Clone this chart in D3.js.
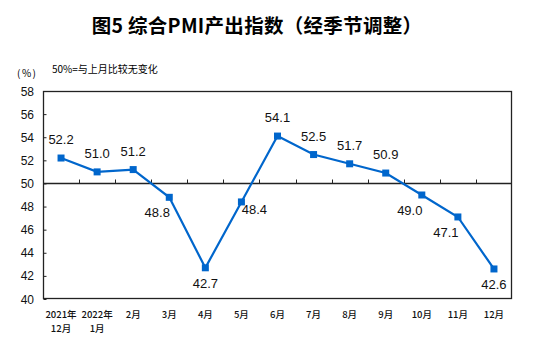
<!DOCTYPE html>
<html>
<head>
<meta charset="utf-8">
<script src="https://cdn.jsdelivr.net/npm/d3@7"></script>
<style>
  html, body { margin: 0; padding: 0; background: #fff; }
  svg { display: block; }
</style>
</head>
<body>
<svg id="chart" width="554" height="345"></svg>
<script>
// Composite PMI output index, seasonally adjusted
const months = ["2021年|12月", "2022年|1月", "2月", "3月", "4月", "5月", "6月", "7月", "8月", "9月", "10月", "11月", "12月"];
const values = [52.2, 51.0, 51.2, 48.8, 42.7, 48.4, 54.1, 52.5, 51.7, 50.9, 49.0, 47.1, 42.6];
// label placement per point: above, below, below-left, below-right
const labelPos = ["above", "above", "above", "belowLeft", "below", "belowRight", "above", "above", "above", "above", "belowLeft", "belowLeft", "below"];
const yTicks = [40, 42, 44, 46, 48, 50, 52, 54, 56, 58];

const svg = d3.select("#chart");
const m = { left: 43, right: 512, top: 91, bottom: 299 };

const x = d3.scaleBand().domain(d3.range(months.length)).range([m.left, m.right]);
const y = d3.scaleLinear().domain([40, 58]).range([m.bottom, m.top]);
const cx = i => x(i) + x.bandwidth() / 2;

// title
svg.append("text")
  .attr("x", 257).attr("y", 33)
  .attr("text-anchor", "middle")
  .attr("font-family", "'Noto Sans CJK SC', sans-serif")
  .attr("font-weight", "bold")
  .attr("font-size", 19.5)
  .attr("letter-spacing", 0.3)
  .attr("fill", "#000")
  .text("图5 综合PMI产出指数（经季节调整）");

// unit and note
svg.append("text").attr("x", 17).attr("y", 77)
  .attr("font-family", "'Noto Sans CJK SC', sans-serif").attr("font-size", 10)
  .attr("letter-spacing", 1.5)
  .text("(%)");
svg.append("text").attr("x", 52).attr("y", 73)
  .attr("font-family", "'Noto Sans CJK SC', sans-serif").attr("font-size", 10)
  .text("50%=与上月比较无变化");

// frame
svg.append("rect")
  .attr("x", m.left + 0.5).attr("y", m.top + 0.5)
  .attr("width", m.right - m.left - 1).attr("height", m.bottom - m.top - 1)
  .attr("fill", "none").attr("stroke", "#222").attr("stroke-width", 1.3);

// y axis: ticks pointing inward
const yAxis = d3.axisRight(y).tickValues(yTicks).tickSize(3).tickFormat("");
const ya = svg.append("g").attr("transform", `translate(${m.left + 0.5},0)`).call(yAxis);
ya.select(".domain").remove();
ya.selectAll("line").attr("stroke", "#222");

svg.append("g").selectAll("text").data(yTicks).join("text")
  .attr("x", 34).attr("y", d => y(d) + 4.5)
  .attr("text-anchor", "end")
  .attr("font-family", "Arial, 'Liberation Sans', sans-serif")
  .attr("font-size", 12)
  .attr("fill", "#111")
  .text(d => d);

// 50 reference line with category ticks pointing up
const y50 = Math.round(y(50)) + 0.5;
svg.append("line")
  .attr("x1", m.left).attr("x2", m.right)
  .attr("y1", y50).attr("y2", y50)
  .attr("stroke", "#222").attr("stroke-width", 1.3);
svg.append("g").selectAll("line").data(d3.range(1, months.length)).join("line")
  .attr("x1", i => Math.round(x(i)) + 0.5).attr("x2", i => Math.round(x(i)) + 0.5)
  .attr("y1", y50).attr("y2", y50 - 4)
  .attr("stroke", "#222");

// category labels
const xl = svg.append("g").selectAll("text").data(months).join("text")
  .attr("text-anchor", "middle")
  .attr("font-family", "'Noto Sans CJK SC', sans-serif")
  .attr("font-size", 9.5)
  .attr("font-weight", 500)
  .attr("fill", "#111");
xl.each(function (d, i) {
  const parts = d.split("|");
  d3.select(this).selectAll("tspan").data(parts).join("tspan")
    .attr("x", cx(i))
    .attr("y", (p, k) => 318 + k * 14)
    .text(p => p);
});

// series line
const line = d3.line().x((d, i) => cx(i)).y(d => y(d));
svg.append("path").datum(values)
  .attr("d", line)
  .attr("fill", "none")
  .attr("stroke", "#0066CC")
  .attr("stroke-width", 2.2);

svg.append("g").selectAll("rect").data(values).join("rect")
  .attr("x", (d, i) => cx(i) - 3.5).attr("y", d => y(d) - 3.5)
  .attr("width", 7).attr("height", 7)
  .attr("fill", "#0066CC");

// value labels
const offs = {
  above: [0, -14],
  below: [0, 20],
  belowLeft: [-12, 20],
  belowRight: [13, 12]
};
svg.append("g").selectAll("text").data(values).join("text")
  .attr("x", (d, i) => cx(i) + offs[labelPos[i]][0])
  .attr("y", (d, i) => y(d) + offs[labelPos[i]][1])
  .attr("text-anchor", "middle")
  .attr("font-family", "Arial, 'Liberation Sans', sans-serif")
  .attr("font-size", 13)
  .attr("fill", "#111")
  .text(d => d.toFixed(1));
</script>
</body>
</html>
